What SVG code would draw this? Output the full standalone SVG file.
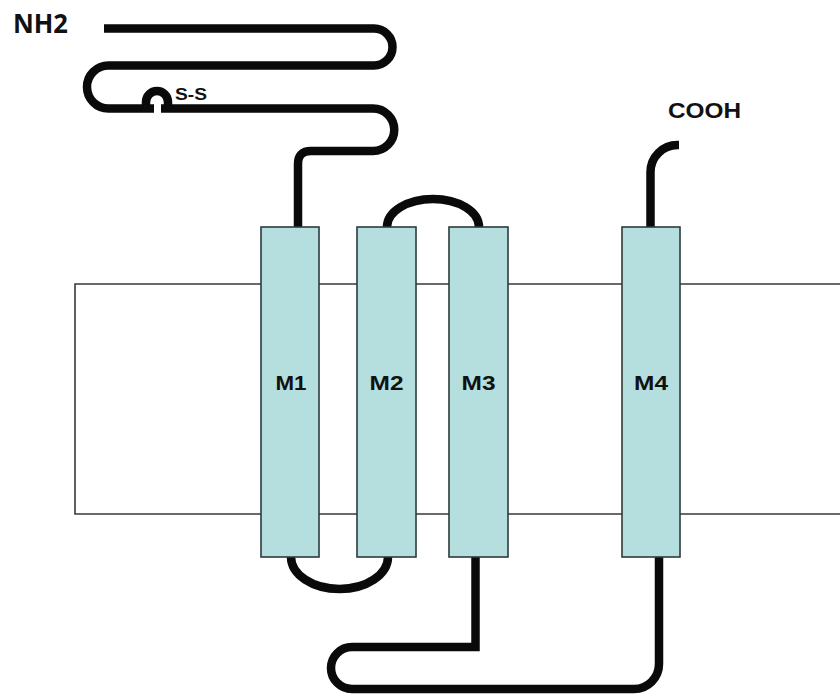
<svg xmlns="http://www.w3.org/2000/svg" width="840" height="695" viewBox="0 0 840 695">
  <style>
    .membrane { fill: none; stroke: #3a3a3a; stroke-width: 1.6; }
    .helix rect { fill: #b5dedf; stroke: #2f3a3a; stroke-width: 1.6; }
    .hlabel { font-family: "Liberation Sans", Arial, sans-serif; font-weight: bold; font-size: 21px; fill: #111; text-anchor: middle; }
    .chain { fill: none; stroke: #0a0a0a; stroke-width: 8.5; stroke-linejoin: round; stroke-linecap: butt; }
    .lbl { font-family: "Liberation Sans", Arial, sans-serif; font-weight: bold; fill: #111; }
  </style>
  <rect width="840" height="695" fill="#ffffff"/>

  <g id="membrane">
    <path class="membrane" d="M840 284 H75 V514 H840"/>
  </g>

  <g id="connectors">
    <path class="chain" d="M104 28.5 H374 A18.5 18.5 0 0 1 374 65.5 H108.5 A21.5 21.5 0 0 0 108.5 108.5 H154"/>
    <path class="chain" d="M161 108.5 H373 A21.25 21.25 0 0 1 373 151 H311 Q298 151 298 164 V227"/>
    <path class="chain" d="M146 109 V102 A11 11 0 0 1 168 102 V109"/>
    <path class="chain" d="M387 227 A46 28 0 0 1 479 227"/>
    <path class="chain" d="M291 557 A48.5 32 0 0 0 388 557"/>
    <path class="chain" style="stroke-linejoin:miter" d="M475.5 557 V647 H352 A21 21 0 0 0 352 689 H634 A25 25 0 0 0 659 664 V557"/>
    <path class="chain" d="M650.5 227 V172 A27 27 0 0 1 677.5 145 H679"/>
  </g>

  <g id="M1" class="helix">
    <rect x="261" y="227" width="58" height="330"/>
    <text class="hlabel" x="291" y="390" textLength="31" lengthAdjust="spacingAndGlyphs">M1</text>
  </g>
  <g id="M2" class="helix">
    <rect x="357" y="227" width="59" height="330"/>
    <text class="hlabel" x="386.5" y="390" textLength="34" lengthAdjust="spacingAndGlyphs">M2</text>
  </g>
  <g id="M3" class="helix">
    <rect x="449" y="227" width="59" height="330"/>
    <text class="hlabel" x="478.5" y="390" textLength="34" lengthAdjust="spacingAndGlyphs">M3</text>
  </g>
  <g id="M4" class="helix">
    <rect x="622" y="227" width="58" height="330"/>
    <text class="hlabel" x="651" y="390" textLength="34" lengthAdjust="spacingAndGlyphs">M4</text>
  </g>

  <g id="NH2">
    <text x="13" y="33" font-family="'Open Sans', 'Noto Sans', sans-serif" font-weight="bold" font-size="26" fill="#111" textLength="55" lengthAdjust="spacingAndGlyphs">NH2</text>
  </g>
  <g id="SS">
    <text class="lbl" x="175" y="100" font-size="16" textLength="32" lengthAdjust="spacingAndGlyphs">S-S</text>
  </g>
  <g id="COOH">
    <text class="lbl" x="668" y="117.5" font-size="22" textLength="73" lengthAdjust="spacingAndGlyphs">COOH</text>
  </g>
</svg>
